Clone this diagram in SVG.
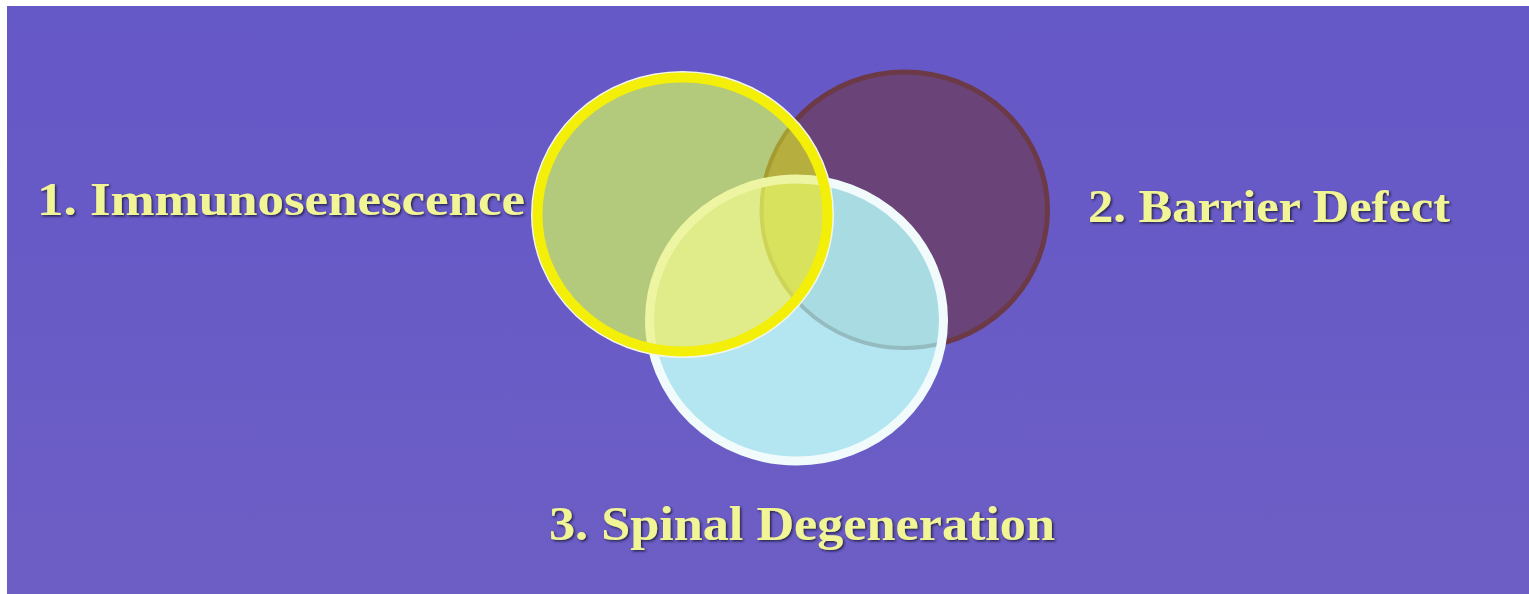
<svg xmlns="http://www.w3.org/2000/svg" width="1529" height="594" viewBox="0 0 1529 594">
  <defs>
    <linearGradient id="bgGrad" x1="0" y1="0" x2="0" y2="1">
      <stop offset="0" stop-color="#6558c7"/>
      <stop offset="1" stop-color="#6d5ec5"/>
    </linearGradient>
    <ellipse id="eY" cx="682.5" cy="214.5" rx="145" ry="137"/>
    <ellipse id="eM" cx="904.5" cy="210" rx="143" ry="138"/>
    <ellipse id="eC" cx="796.5" cy="320" rx="147" ry="141"/>
    <clipPath id="clipY"><use href="#eY"/></clipPath>
    <clipPath id="clipM"><use href="#eM"/></clipPath>
    <clipPath id="clipC"><use href="#eC"/></clipPath>
    <filter id="txtShadow" x="-5%" y="-30%" width="110%" height="160%">
      <feDropShadow dx="1.5" dy="1.5" stdDeviation="1" flood-color="#1e1a40" flood-opacity="0.9"/>
    </filter>
  </defs>
  <style>
    .label { font-family: "Liberation Serif", "Times New Roman", serif; font-weight: bold; fill: #f2f596; filter: url(#txtShadow); }
  </style>

  <rect x="0" y="0" width="1529" height="594" fill="#ffffff"/>
  <rect x="7" y="6" width="1522" height="588" fill="url(#bgGrad)"/>

  <g id="circle-barrier">
    <use href="#eM" fill="#6a4478" stroke="#6c3a46" stroke-width="5"/>
  </g>

  <g id="circle-spinal">
    <use href="#eC" fill="#b3e6f0"/>
    <g clip-path="url(#clipC)">
      <use href="#eM" fill="#a9dce2"/>
      <use href="#eM" fill="none" stroke="#94bcc0" stroke-width="4"/>
    </g>
    <use href="#eC" fill="none" stroke="#f2fbfb" stroke-width="9"/>
  </g>

  <g id="circle-immuno">
    <use href="#eY" fill="#b3c97c"/>
    <g clip-path="url(#clipY)">
      <use href="#eM" fill="#b6ae3e"/>
      <use href="#eM" fill="none" stroke="#a49c30" stroke-width="4"/>
      <use href="#eC" fill="#e0ec8a"/>
      <g clip-path="url(#clipC)">
        <use href="#eM" fill="#d9e25c"/>
        <use href="#eM" fill="none" stroke="#cdd458" stroke-width="4"/>
      </g>
      <use href="#eC" fill="none" stroke="#eef5a2" stroke-width="9"/>
    </g>
    <ellipse cx="682.5" cy="214.5" rx="150.5" ry="142.5" fill="none" stroke="#f4f6e8" stroke-width="2"/>
    <use href="#eY" fill="none" stroke="#f3ef08" stroke-width="10"/>
  </g>

  <g id="connectors"/>

  <g id="label-immuno">
    <text class="label" x="37" y="215" font-size="46" textLength="488" lengthAdjust="spacingAndGlyphs">1. Immunosenescence</text>
  </g>
  <g id="label-barrier">
    <text class="label" x="1088" y="222" font-size="46" textLength="362" lengthAdjust="spacingAndGlyphs">2. Barrier Defect</text>
  </g>
  <g id="label-spinal">
    <text class="label" x="549" y="540" font-size="48" textLength="506" lengthAdjust="spacingAndGlyphs">3. Spinal Degeneration</text>
  </g>
</svg>
